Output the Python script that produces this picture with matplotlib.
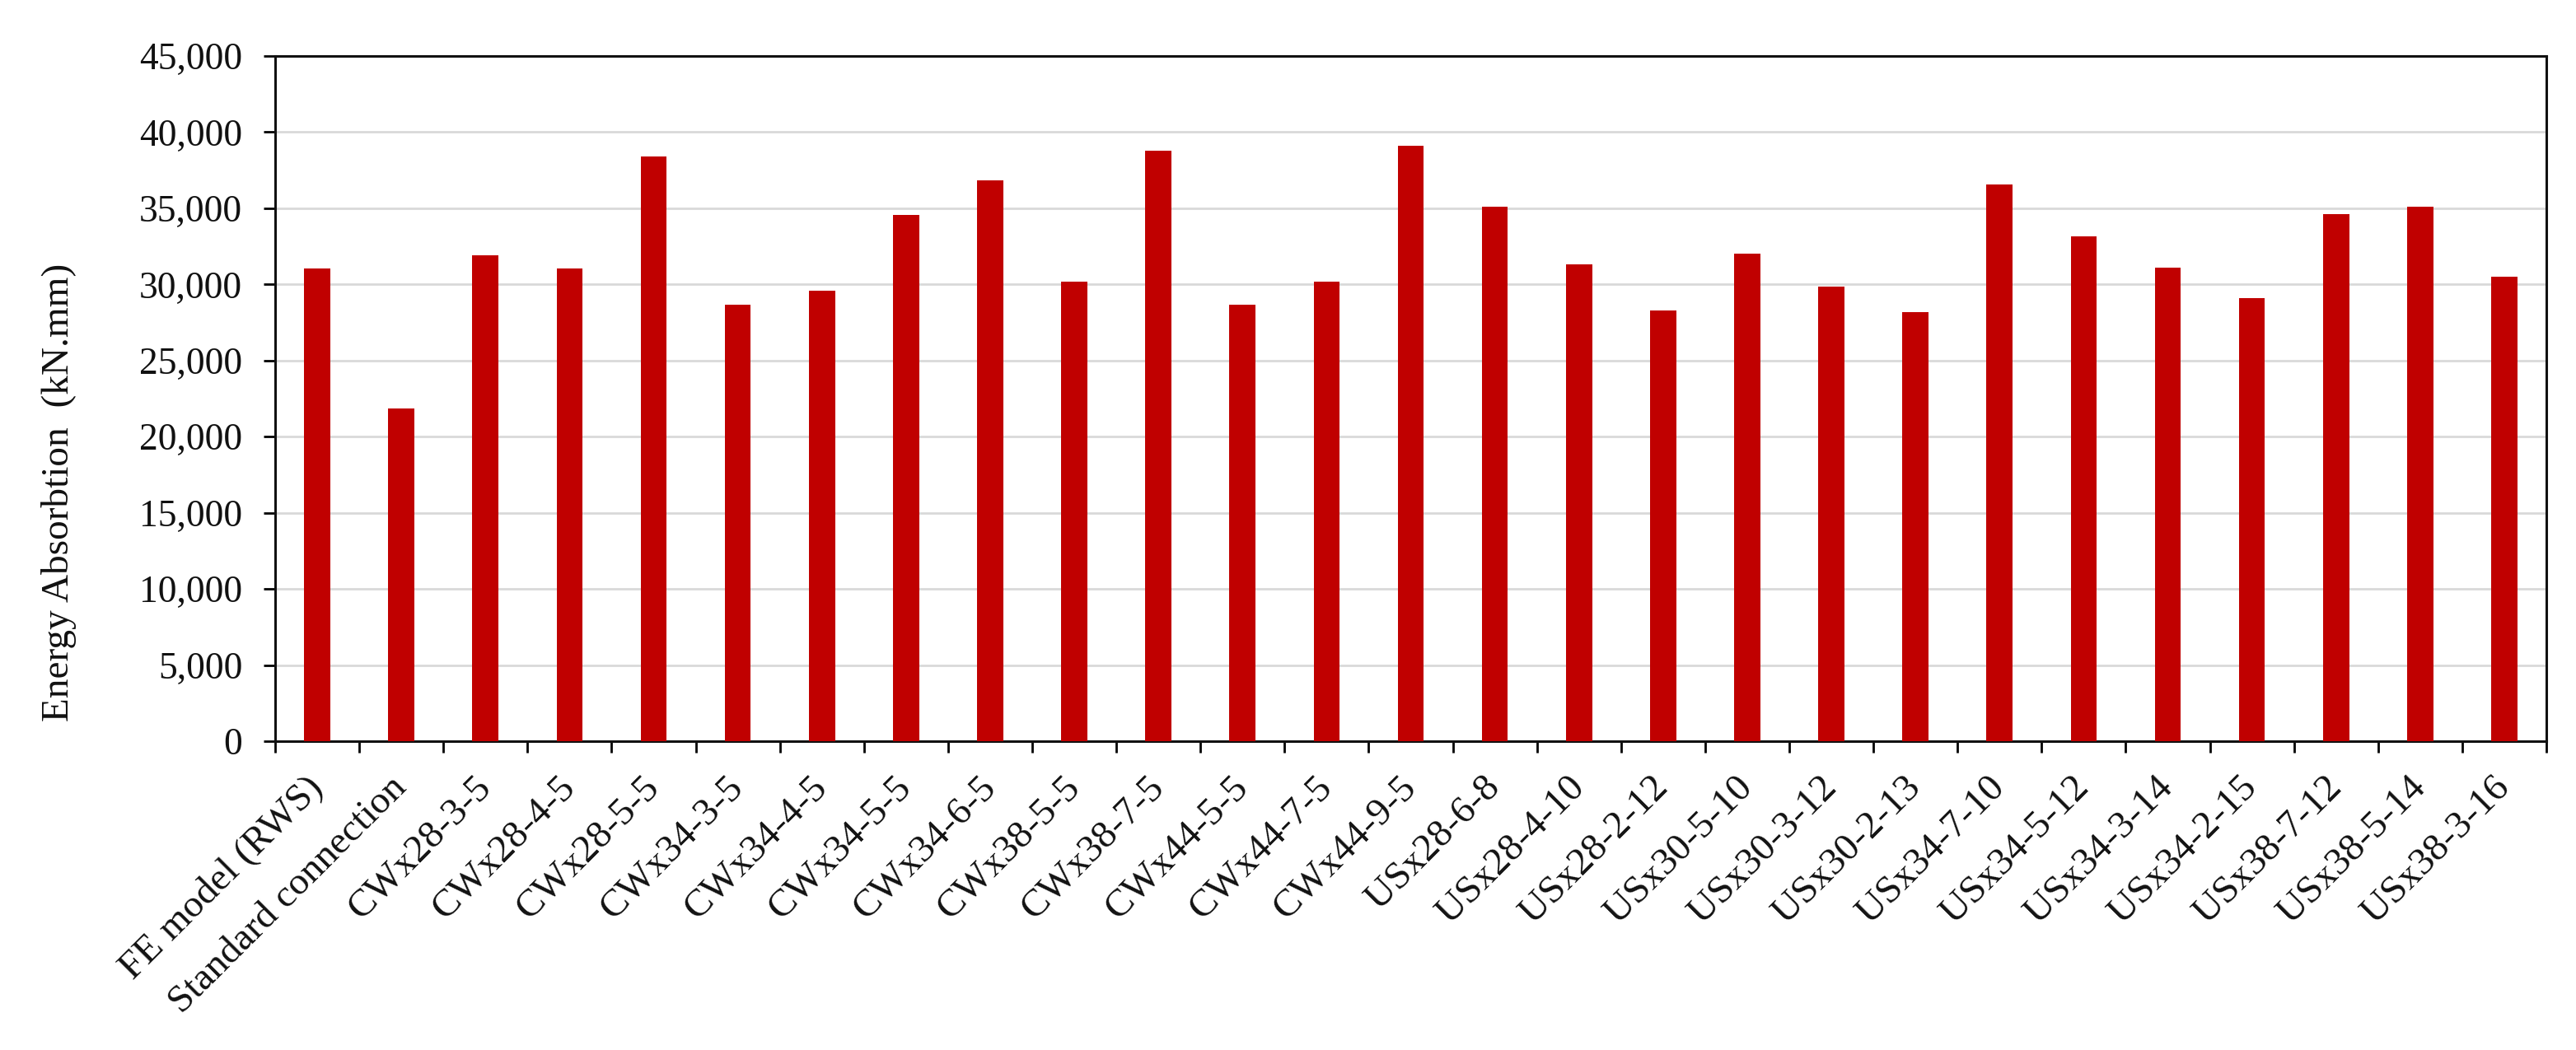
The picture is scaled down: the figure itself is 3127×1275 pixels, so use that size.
import matplotlib
matplotlib.use("Agg")
import matplotlib.pyplot as plt
from matplotlib.ticker import FuncFormatter, MultipleLocator, FixedLocator
import numpy as np

categories = ["FE model (RWS)", "Standard connection", "CWx28-3-5", "CWx28-4-5", "CWx28-5-5",
              "CWx34-3-5", "CWx34-4-5", "CWx34-5-5", "CWx34-6-5", "CWx38-5-5", "CWx38-7-5",
              "CWx44-5-5", "CWx44-7-5", "CWx44-9-5", "USx28-6-8", "USx28-4-10", "USx28-2-12",
              "USx30-5-10", "USx30-3-12", "USx30-2-13", "USx34-7-10", "USx34-5-12", "USx34-3-14",
              "USx34-2-15", "USx38-7-12", "USx38-5-14", "USx38-3-16"]
energy = [31050, 21840, 31900, 31050, 38410, 28690, 29570, 34570, 36840, 30200, 38770,
          28690, 30200, 39100, 35100, 31310, 28260, 32000, 29840, 28160, 36570, 33160,
          31115, 29115, 34640, 35100, 30525]

plt.rcParams['font.family'] = ['Liberation Serif', 'DejaVu Serif']

fig = plt.figure(figsize=(15.635, 6.375), dpi=200)
ax = fig.add_axes([0.1068, 0.2941, 0.9885 - 0.1068, 0.9467 - 0.2941])

x = np.arange(len(categories))
ax.bar(x, energy, width=0.31, color="#C00000", zorder=3)

ax.set_xlim(-0.5, len(categories) - 0.5)
ax.set_ylim(0, 45000)
ax.yaxis.set_major_locator(MultipleLocator(5000))
ax.yaxis.set_major_formatter(FuncFormatter(lambda v, p: f"{int(v):,}"))
ax.grid(axis='y', color="#d9d9d9", linewidth=1.0, zorder=0)
ax.set_axisbelow(True)

# ticks at category boundaries, labels at centres
ax.xaxis.set_major_locator(FixedLocator(np.arange(-0.5, len(categories) + 0.5, 1)))
ax.xaxis.set_major_formatter(FuncFormatter(lambda v, p: ""))
ax.xaxis.set_minor_locator(FixedLocator(x))
ax.set_xticklabels(categories, minor=True, rotation=45, ha='right', va='center',
                   rotation_mode='anchor', fontsize=17, color='#111111')
ax.tick_params(axis='x', which='minor', length=0, pad=18)
ax.tick_params(axis='x', which='major', length=5, width=1.0, direction='out', color='black')
ax.tick_params(axis='y', which='major', length=5, width=1.0, direction='out', labelsize=16.4,
               labelcolor='#111111', pad=9.3)

for s in ax.spines.values():
    s.set_linewidth(1.1)
    s.set_color('#111111')

ax.set_ylabel("Energy Absorbtion  (kN.mm)", fontsize=17, color='#111111')
ax.yaxis.set_label_coords(-0.0875, 0.363)

fig.savefig("out.png", dpi=200, facecolor='white')
